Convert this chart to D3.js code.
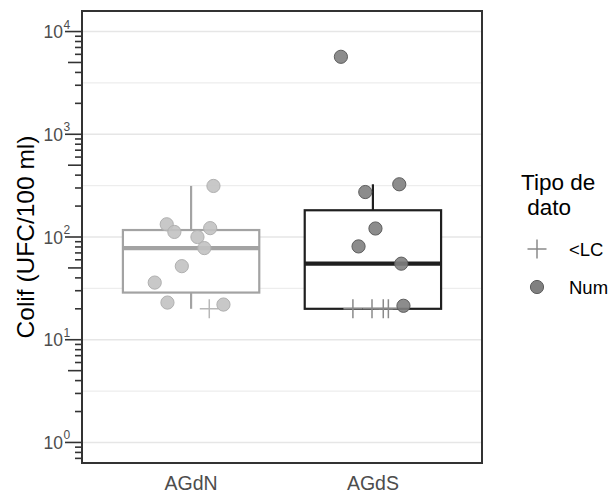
<!DOCTYPE html>
<html><head><meta charset="utf-8">
<script src="https://cdn.jsdelivr.net/npm/d3@7"></script>
<style>body{margin:0;background:#fff}</style>
</head><body><svg id="c" width="612" height="493"></svg>
<script>
// ---------- data ----------
const categories = ["AGdN", "AGdS"];
// numeric observations (UFC/100 ml)
const numAGdN = [314, 133, 112, 122, 100, 78, 52, 36, 23, 22];
const numAGdS = [5680, 274, 326, 121, 81, 55, 21.4];
// values below detection limit (<LC) plotted at the limit
const lcAGdN = [20];
const lcAGdS = [20, 20, 20, 20];
// jitter offsets (fraction of category step)
const jitNumAGdN = [0.123, -0.134, -0.092, 0.105, 0.035, 0.073, -0.051, -0.200, -0.130, 0.178];
const jitNumAGdS = [-0.176, -0.042, 0.145, 0.014, -0.079, 0.156, 0.168];
const jitLcAGdN = [0.10];
const jitLcAGdS = [-0.110, -0.005, 0.057, 0.085];
const yTickExps = [0, 1, 2, 3, 4];
const yLimits = [1, 10000];
const legendLabels = ["<LC", "Num"];

// ---------- layout ----------
const svg = d3.select("#c");
const P = {l: 82, r: 482, t: 11, b: 463};
const F = "'Liberation Sans', Arial, sans-serif";

const lo = Math.log10(yLimits[0]), hi = Math.log10(yLimits[1]);
const ex = (hi - lo) * 0.05;
const y = d3.scaleLog().domain([Math.pow(10, lo - ex), Math.pow(10, hi + ex)]).range([P.b, P.t]);
const x = d3.scalePoint().domain(categories).range([P.l, P.r]).padding(0.6);
const step = x.step();

const groups = [
  {cat: "AGdN", num: numAGdN, lc: lcAGdN, jn: jitNumAGdN, jl: jitLcAGdN,
   box: "#a3a3a3", pfill: "#c2c2c2", pstroke: "#b0b0b0", cross: "#b8b8b8"},
  {cat: "AGdS", num: numAGdS, lc: lcAGdS, jn: jitNumAGdS, jl: jitLcAGdS,
   box: "#1f1f1f", pfill: "#808080", pstroke: "#5e5e5e", cross: "#8a8a8a"}
];

// gridlines (major + minor at half decades)
const grid = svg.append("g");
for (let e = 0; e <= 4; e += 0.5) {
  const yy = y(Math.pow(10, e));
  grid.append("line").attr("x1", P.l).attr("x2", P.r).attr("y1", yy).attr("y2", yy)
    .attr("stroke", e % 1 === 0 ? "#e6e6e6" : "#ededed").attr("stroke-width", e % 1 === 0 ? 1.6 : 1.2);
}

// boxplots
groups.forEach(g => {
  const all = g.num.concat(g.lc).map(v => Math.log10(v)).sort(d3.ascending);
  const q1 = d3.quantile(all, 0.25), med = d3.quantile(all, 0.5), q3 = d3.quantile(all, 0.75);
  const iqr = q3 - q1;
  const upper = d3.max(all.filter(v => v <= q3 + 1.5 * iqr));
  const lower = d3.min(all.filter(v => v >= q1 - 1.5 * iqr));
  const cx = x(g.cat), bw = step * 0.75;
  const Y = v => y(Math.pow(10, v));
  const b = svg.append("g").attr("stroke", g.box).attr("fill", "none");
  b.append("line").attr("x1", cx).attr("x2", cx).attr("y1", Y(q3)).attr("y2", Y(upper)).attr("stroke-width", 2.2);
  b.append("line").attr("x1", cx).attr("x2", cx).attr("y1", Y(q1)).attr("y2", Y(lower)).attr("stroke-width", 2.2);
  b.append("rect").attr("x", cx - bw / 2).attr("width", bw).attr("y", Y(q3)).attr("height", Y(q1) - Y(q3))
    .attr("fill", "#fff").attr("stroke-width", 2.2);
  b.append("line").attr("x1", cx - bw / 2).attr("x2", cx + bw / 2).attr("y1", Y(med)).attr("y2", Y(med)).attr("stroke-width", 4.4);
});

// points
const cs = 9.5;
groups.forEach(g => {
  const cx = x(g.cat);
  const pg = svg.append("g");
  g.lc.forEach((v, i) => {
    const px = cx + g.jl[i] * step, py = y(v);
    pg.append("path").attr("d", `M${px - cs},${py}H${px + cs}M${px},${py - cs}V${py + cs}`)
      .attr("stroke", g.cross).attr("stroke-width", 1.5).attr("fill", "none");
  });
  g.num.forEach((v, i) => {
    pg.append("circle").attr("cx", cx + g.jn[i] * step).attr("cy", y(v)).attr("r", 6.6)
      .attr("fill", g.pfill).attr("fill-opacity", 0.9).attr("stroke", g.pstroke).attr("stroke-width", 1);
  });
});

// panel border
svg.append("rect").attr("x", P.l).attr("y", P.t).attr("width", P.r - P.l).attr("height", P.b - P.t)
  .attr("fill", "none").attr("stroke", "#333").attr("stroke-width", 2);

// log ticks (outside, left)
const tk = svg.append("g").attr("stroke", "#333").attr("stroke-width", 1.6);
for (let e = 0; e <= 4; e++) {
  for (let m = 1; m <= 9; m++) {
    const v = m * Math.pow(10, e - (m === 1 ? 0 : 1));
    if (m === 1) {
      tk.append("line").attr("x1", P.l - 17).attr("x2", P.l).attr("y1", y(v)).attr("y2", y(v));
    }
  }
}
const dom = y.domain();
for (let e = -1; e <= 4; e++) {
  for (let m = 2; m <= 9; m++) {
    const v = m * Math.pow(10, e);
    if (v < dom[0] || v > dom[1]) continue;
    const len = m === 5 ? 14 : 7;
    tk.append("line").attr("x1", P.l - len).attr("x2", P.l).attr("y1", y(v)).attr("y2", y(v));
  }
}

// y tick labels
yTickExps.forEach(e => {
  const t = svg.append("text").attr("x", 63).attr("y", y(Math.pow(10, e)) + 6.5)
    .attr("text-anchor", "end").attr("font-family", F).attr("font-size", 17.5).attr("fill", "#4d4d4d");
  t.text("10");
  svg.append("text").attr("x", 63.5).attr("y", y(Math.pow(10, e)) - 3)
    .attr("font-family", F).attr("font-size", 12).attr("fill", "#4d4d4d").text(e);
});

// x tick labels
categories.forEach(c => {
  svg.append("text").attr("x", x(c)).attr("y", 490).attr("text-anchor", "middle")
    .attr("font-family", F).attr("font-size", 19.5).attr("fill", "#4d4d4d").text(c);
});

// y title
svg.append("text").attr("transform", `translate(34,${(P.t + P.b) / 2}) rotate(-90)`)
  .attr("text-anchor", "middle").attr("font-family", F).attr("font-size", 24.5).attr("fill", "#000")
  .text("Colif (UFC/100 ml)");

// legend
const lg = svg.append("g").attr("font-family", F);
lg.append("text").attr("x", 521).attr("y", 190).attr("font-size", 22.5).text("Tipo de");
lg.append("text").attr("x", 521).attr("y", 215).attr("font-size", 22.5).attr("xml:space", "preserve").text(" dato");
const kx = 537, ky = [249, 287];
lg.append("path").attr("d", `M${kx - cs},${ky[0]}H${kx + cs}M${kx},${ky[0] - cs}V${ky[0] + cs}`)
  .attr("stroke", "#8a8a8a").attr("stroke-width", 1.5);
lg.append("circle").attr("cx", kx).attr("cy", ky[1]).attr("r", 6.6).attr("fill", "#808080").attr("stroke", "#5e5e5e");
legendLabels.forEach((l, i) => {
  lg.append("text").attr("x", 569).attr("y", ky[i] + 6.5).attr("font-size", 18.5).text(l);
});
</script></body></html>
